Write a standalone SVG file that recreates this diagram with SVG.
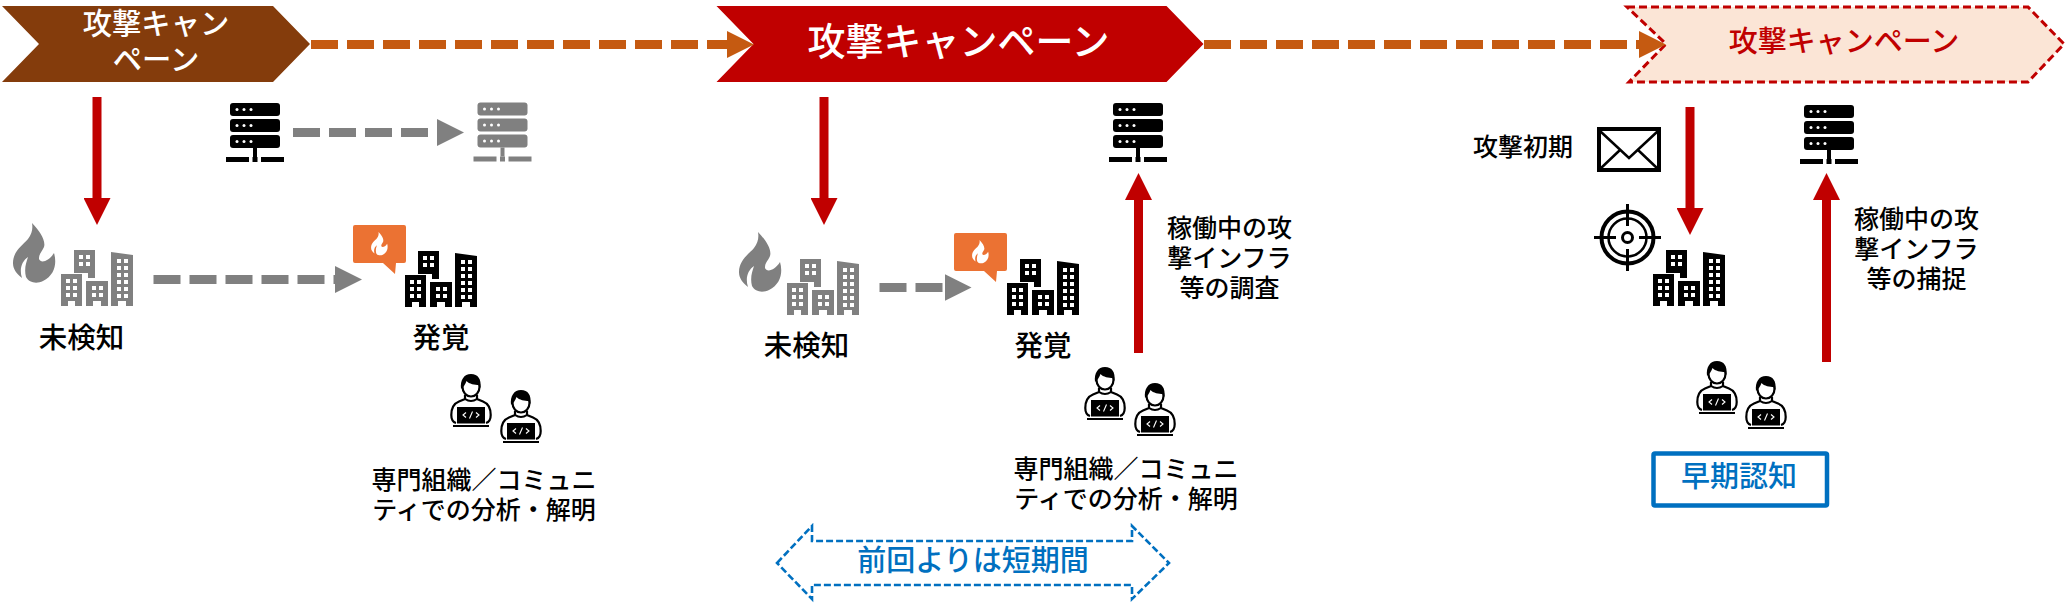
<svg xmlns="http://www.w3.org/2000/svg" xmlns:xlink="http://www.w3.org/1999/xlink" width="2067" height="603" viewBox="0 0 2067 603">
<style>
text{font-family:"Noto Sans CJK JP","Noto Sans",sans-serif;text-anchor:middle;fill:#000;font-weight:500}
.lab{font-size:28.500px}
.cap{font-size:25px}
.title{font-weight:500;fill:#fff}
.blue{font-weight:500;font-size:29px;fill:#0070C0}
.conn{fill:none;stroke-width:9}
.red{stroke:#C00000}
.grey{stroke:#808080;stroke-dasharray:27 9}
.orange{stroke:#C55A11;stroke-dasharray:27 9}
.black{color:#000}
.gray{color:#808080}
</style>
<defs>
<marker id="hRed" markerUnits="userSpaceOnUse" markerWidth="27" markerHeight="27" viewBox="0 0 27 27" refX="1" refY="13.5" orient="auto"><path d="M0 0L27 13.5L0 27Z" fill="#C00000"/></marker>
<marker id="hGrey" markerUnits="userSpaceOnUse" markerWidth="27" markerHeight="27" viewBox="0 0 27 27" refX="0" refY="13.5" orient="auto"><path d="M0 0L27 13.5L0 27Z" fill="#808080"/></marker>
<marker id="hOrange" markerUnits="userSpaceOnUse" markerWidth="27" markerHeight="27" viewBox="0 0 27 27" refX="0" refY="13.5" orient="auto"><path d="M0 0L27 13.5L0 27Z" fill="#C55A11"/></marker>
<symbol id="flame" viewBox="0 0 43 60" width="43" height="60" overflow="visible">
<path fill="currentColor" d="M19 0C27 8 33 18 31 24C29 29 26 30 26 36C28 41 36 38 41 30C44 40 42 52 30 58C24 61 16 60 13 54C11 46 13 40 15 34C9 38 6 46 9 55C3 50 0 46 0 40C0 28 10 22 15 16C19 11 20 6 19 0Z"/>
</symbol>
<symbol id="building" viewBox="0 0 72 56" width="72" height="56" overflow="visible">
<g fill="currentColor">
<path d="M13 0H34V28H27V23H13Z"/>
<path d="M0 24H21V56H14V51H7V56H0Z"/>
<path d="M25 31H47V56H40V51H32V56H25Z"/>
<path d="M50 2L72 5V56H65V51H57V56H50Z"/>
</g>
<g fill="#fff">
<path d="M18 5h4v4h-4zM25 5h4v4h-4zM18 12h4v4h-4zM25 12h4v4h-4z"/>
<path d="M5 29h4v4H5zM12 29h4v4h-4zM5 36h4v4H5zM12 36h4v4h-4zM5 43h4v4H5zM12 43h4v4h-4z"/>
<path d="M31 36h4v4h-4zM38 36h4v4h-4zM31 43h4v4h-4zM38 43h4v4h-4z"/>
<path d="M56 9h4v4h-4zM63 9h4v4h-4zM56 16h4v4h-4zM63 16h4v4h-4zM56 23h4v4h-4zM63 23h4v4h-4zM56 30h4v4h-4zM63 30h4v4h-4zM56 37h4v4h-4zM63 37h4v4h-4zM56 44h4v4h-4zM63 44h4v4h-4z"/>
</g>
</symbol>
<symbol id="server" viewBox="0 0 58 60" width="58" height="60" overflow="visible">
<g fill="currentColor">
<rect x="4" y="1" width="50" height="13" rx="3"/>
<rect x="4" y="17" width="50" height="13" rx="3"/>
<rect x="4" y="33" width="50" height="13" rx="3"/>
<rect x="27" y="46" width="4" height="9"/>
<rect x="0" y="55" width="23" height="5"/>
<rect x="26.500" y="55" width="5" height="5"/>
<rect x="35" y="55" width="23" height="5"/>
</g>
<g fill="#fff">
<circle cx="11" cy="7.500" r="1.500"/><circle cx="18" cy="7.500" r="1.500"/><circle cx="25" cy="7.500" r="1.500"/>
<circle cx="11" cy="23.500" r="1.500"/><circle cx="18" cy="23.500" r="1.500"/><circle cx="25" cy="23.500" r="1.500"/>
<circle cx="11" cy="39.500" r="1.500"/><circle cx="18" cy="39.500" r="1.500"/><circle cx="25" cy="39.500" r="1.500"/>
</g>
</symbol>
<symbol id="person" viewBox="0 0 42 53" width="42" height="53" overflow="visible">
<path d="M6 49C2.500 48 1.300 46 1.300 41C1.300 33 4 29.500 9 27.500L15 25V21M27 21V25L33 27.500C38 29.500 40.700 33 40.700 41C40.700 46 39.500 48 36 49" fill="none" stroke="#000" stroke-width="2.200"/>
<path d="M15 25Q21 29 27 25" fill="none" stroke="#000" stroke-width="2"/>
<ellipse cx="21" cy="13" rx="8.500" ry="9.500" fill="#fff" stroke="#000" stroke-width="2.200"/>
<path d="M11 15C10 6 14 0 21 0C28 0 31.500 5 30.500 14L29 11C25 11 19 10 16.500 7C15.500 10 13.500 13 11 15Z" fill="#000"/>
<rect x="7" y="33" width="28" height="16.500"/>
<rect x="3" y="51" width="36" height="2"/>
<path d="M16 38.500L13 41L16 43.500M26 38.500L29 41L26 43.500M22.500 37.500L19.500 44.500" fill="none" stroke="#fff" stroke-width="1.100"/>
</symbol>
<symbol id="callout" viewBox="0 0 53 49" width="53" height="49" overflow="visible">
<path d="M2 0H51Q53 0 53 2V36Q53 38 51 38H43L42 49L30 38H2Q0 38 0 36V2Q0 0 2 0Z" fill="#EB7233"/>
<use href="#flame" x="18" y="7" width="17" height="23.500" style="color:#fff"/>
</symbol>
</defs>

<g id="campaign-1">
<path d="M2 6H273L310 44L273 82H2L39 44Z" fill="#843C0C"/>
<text class="title" x="156" y="34" font-size="29.300">攻撃キャン</text>
<text class="title" x="156" y="70" font-size="29.300">ペーン</text>
</g>
<g id="campaign-2">
<path d="M716.500 6H1166.500L1203.500 44L1166.500 82H716.500L753.500 44Z" fill="#C00000"/>
<text class="title" x="958.500" y="55" font-size="38">攻撃キャンペーン</text>
</g>
<g id="campaign-3">
<path d="M1627 7H2028L2064 44L2028 82H1629L1666 44Z" fill="#FBE5D6" stroke="#C00000" stroke-width="3" stroke-dasharray="8 4"/>
<text x="1844" y="52" font-size="29" style="fill:#C00000">攻撃キャンペーン</text>
</g>

<g id="server-1a" class="black"><use href="#server" x="226" y="102"/></g>
<g id="server-1b" class="gray"><use href="#server" x="473.500" y="101.500"/></g>
<g id="unaware-1" class="gray">
<use href="#flame" x="13" y="223"/>
<use href="#building" x="61" y="250"/>
<text class="lab" x="81.500" y="348">未検知</text>
</g>
<g id="found-1" class="black">
<use href="#callout" x="353" y="225"/>
<use href="#building" x="405" y="251"/>
<text class="lab" x="441" y="348">発覚</text>
</g>
<g id="analysts-1">
<use href="#person" x="450" y="374"/>
<use href="#person" x="500" y="390"/>
<text class="cap" x="484" y="488.500">専門組織／コミュニ</text>
<text class="cap" x="484" y="518.500">ティでの分析・解明</text>
</g>

<g id="unaware-2" class="gray">
<use href="#flame" x="739" y="232"/>
<use href="#building" x="787" y="259"/>
<text class="lab" x="806.500" y="356">未検知</text>
</g>
<g id="found-2" class="black">
<use href="#callout" x="954" y="233"/>
<use href="#building" x="1007" y="259"/>
<text class="lab" x="1043" y="356">発覚</text>
</g>
<g id="server-2" class="black"><use href="#server" x="1109" y="102"/></g>
<g id="label-survey">
<text class="cap" x="1229.500" y="236.500">稼働中の攻</text>
<text class="cap" x="1229.500" y="266.500">撃インフラ</text>
<text class="cap" x="1229.500" y="296.500">等の調査</text>
</g>
<g id="analysts-2">
<use href="#person" x="1084" y="367"/>
<use href="#person" x="1134" y="383"/>
<text class="cap" x="1126" y="477.500">専門組織／コミュニ</text>
<text class="cap" x="1126" y="507.500">ティでの分析・解明</text>
</g>
<g id="shorter">
<path d="M777 563L812 526V541H1132V526L1169 563L1132 599V585H812V599Z" fill="#fff" stroke="#0070C0" stroke-width="2.600" stroke-dasharray="7 3"/>
<text class="blue" x="973" y="571">前回よりは短期間</text>
</g>

<g id="initial">
<text class="cap" x="1523" y="155.500">攻撃初期</text>
<g fill="none" stroke="#000">
<rect x="1599" y="129" width="60" height="41" stroke-width="4"/>
<path d="M1600 131L1629 158L1658 131M1600 169L1620 150M1658 169L1638 150" stroke-width="2.500"/>
</g>
</g>
<g id="target" fill="none" stroke="#000">
<circle cx="1627.500" cy="237.500" r="26" stroke-width="4"/>
<circle cx="1627.500" cy="237.500" r="19" stroke-width="2.500"/>
<circle cx="1627.500" cy="237.500" r="5" stroke-width="3"/>
<path d="M1594 237.500H1616M1639 237.500H1661M1627.500 204V226M1627.500 249V271" stroke-width="3"/>
</g>
<g id="found-3" class="black"><use href="#building" x="1653" y="250"/></g>
<g id="server-3" class="black"><use href="#server" x="1800" y="104"/></g>
<g id="label-capture">
<text class="cap" x="1916.500" y="227.500">稼働中の攻</text>
<text class="cap" x="1916.500" y="257.500">撃インフラ</text>
<text class="cap" x="1916.500" y="287.500">等の捕捉</text>
</g>
<g id="analysts-3">
<use href="#person" x="1696" y="361"/>
<use href="#person" x="1745" y="376"/>
</g>
<g id="early">
<rect x="1653.500" y="453.500" width="173.500" height="52" rx="1.500" fill="#fff" stroke="#0070C0" stroke-width="4.500"/>
<text class="blue" x="1739" y="487">早期認知</text>
</g>

<g id="connectors">
<line class="conn orange" x1="311" y1="44.500" x2="727" y2="44.500" marker-end="url(#hOrange)"/>
<line class="conn orange" x1="1204" y1="44.500" x2="1639" y2="44.500" marker-end="url(#hOrange)"/>
<line class="conn grey" x1="293" y1="132.500" x2="437" y2="132.500" marker-end="url(#hGrey)"/>
<line class="conn grey" x1="153.500" y1="279.500" x2="335" y2="279.500" marker-end="url(#hGrey)"/>
<line class="conn grey" x1="879.500" y1="287.500" x2="944.500" y2="287.500" marker-end="url(#hGrey)"/>
<line class="conn red" x1="97" y1="97" x2="97" y2="199" marker-end="url(#hRed)"/>
<line class="conn red" x1="824" y1="97" x2="824" y2="199" marker-end="url(#hRed)"/>
<line class="conn red" x1="1690" y1="107" x2="1690" y2="209" marker-end="url(#hRed)"/>
<line class="conn red" x1="1138.500" y1="353" x2="1138.500" y2="199" marker-end="url(#hRed)"/>
<line class="conn red" x1="1826.500" y1="362" x2="1826.500" y2="199" marker-end="url(#hRed)"/>
</g>
</svg>
